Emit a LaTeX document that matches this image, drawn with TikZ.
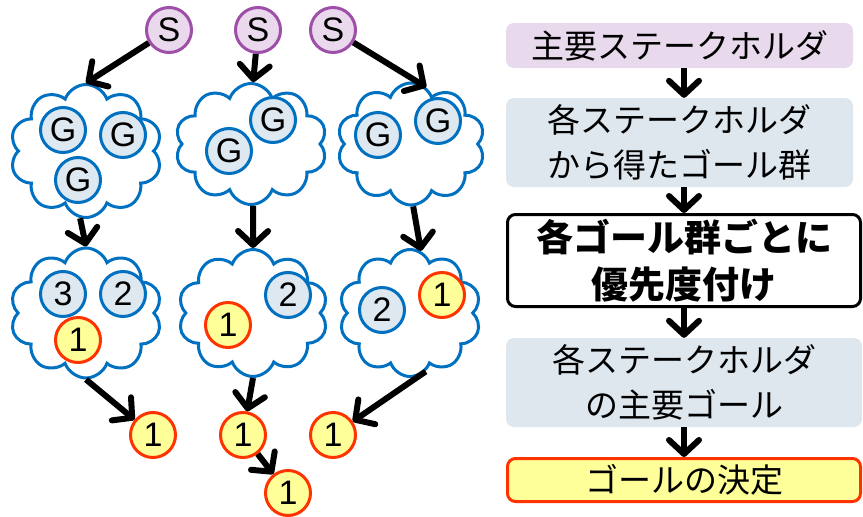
\documentclass[tikz,border=0pt]{standalone}
\usepackage{fontspec}
\setmainfont{Liberation Sans}
\newfontfamily\jp{Noto Sans CJK JP}
\usetikzlibrary{shapes.symbols,arrows.meta}
\definecolor{cloudblue}{HTML}{0070C0}
\definecolor{gfill}{HTML}{DEE8F0}
\definecolor{yfill}{HTML}{FFFF99}
\definecolor{ydraw}{HTML}{FF3300}
\definecolor{sfill}{HTML}{EAD8EC}
\definecolor{sdraw}{HTML}{9E4FA8}
\definecolor{pinkbox}{HTML}{E8DAEC}
\definecolor{bluebox}{HTML}{DEE6EE}
\tikzset{
  circ/.style={circle, minimum size=45pt, inner sep=0pt, line width=3pt, font=\fontsize{34}{34}\selectfont},
  snode/.style={circ, draw=sdraw, fill=sfill},
  gnode/.style={circ, draw=cloudblue, fill=gfill},
  ynode/.style={circ, draw=ydraw, fill=yfill},
  cloudy/.style={cloud, cloud puffs=10, cloud puff arc=140, draw=cloudblue, fill=white, line width=3pt, inner sep=0pt},
  arr/.style={line width=6pt, -{Straight Barb[length=14pt,width=30pt,line width=6pt,round]}},
  boxbase/.style={rounded corners=8pt, inner sep=0pt, align=center, font=\jp\fontsize{33}{45}\selectfont},
}
\begin{document}
\begin{tikzpicture}[x=1pt,y=-1pt]
\useasboundingbox (0,0) rectangle (863,517);
% clouds
\node[cloudy, minimum width=152pt, minimum height=133pt] (c1) at (86,151) {};
\node[cloudy, minimum width=152pt, minimum height=121pt] (c2) at (251,144) {};
\node[cloudy, minimum width=148pt, minimum height=122pt] (c3) at (411,144) {};
\node[cloudy, minimum width=152pt, minimum height=130pt] (c4) at (86,313) {};
\node[cloudy, minimum width=150pt, minimum height=127pt] (c5) at (253,313) {};
\node[cloudy, minimum width=142pt, minimum height=127pt] (c6) at (410,313) {};
% S nodes
\node[snode] (s1) at (169,30) {S};
\node[snode] (s2) at (258,30) {S};
\node[snode] (s3) at (333,30) {S};
% G nodes
\node[gnode] (g11) at (63,130) {G};
\node[gnode] (g12) at (123,135) {G};
\node[gnode] (g13) at (78,180) {G};
\node[gnode] (g21) at (229,151) {G};
\node[gnode] (g22) at (273,120) {G};
\node[gnode] (g31) at (378,135) {G};
\node[gnode] (g32) at (438,121) {G};
% ranked
\node[gnode] (r43) at (63,294) {3};
\node[gnode] (r42) at (123,294) {2};
\node[ynode] (r41) at (78,340) {1};
\node[ynode] (r51) at (228,325) {1};
\node[gnode] (r52) at (288,295) {2};
\node[gnode] (r62) at (382,310) {2};
\node[ynode] (r61) at (442,295) {1};
% results
\node[ynode] (l1) at (153,435) {1};
\node[ynode] (m1) at (243,435) {1};
\node[ynode] (b1) at (288,493) {1};
\node[ynode] (rr1) at (333,435) {1};
% arrows left
\draw[arr] (s1) -- (c1.north);
\draw[arr] (s2) -- (c2.88);
\draw[arr] (s3) -- (c3.75);
\draw[arr] (c1.265) -- (c4.north);
\draw[arr] (c2.272) -- (c5.north);
\draw[arr] (c3.272) -- (c6.80);
\draw[arr] (c4.270) -- (l1);
\draw[arr] (c5.270) -- (m1);
\draw[arr] (m1) -- (b1);
\draw[arr] (c6.285) -- (rr1);
% right flow
\coordinate (ax) at (684,0);
\node[boxbase, fill=pinkbox, minimum width=347pt, minimum height=45pt] (k1) at (679.5,45.5) {主要ステークホルダ};
\node[boxbase, fill=bluebox, minimum width=347pt, minimum height=89pt] (k2) at (679.5,142.5) {各ステークホルダ\\から得たゴール群};
\node[boxbase, draw=black, line width=3pt, fill=white, minimum width=353pt, minimum height=92pt, font=\jp\bfseries\fontsize{37}{47}\selectfont] (k3) at (684,260.5) {各ゴール群ごとに\\優先度付け};
\node[boxbase, fill=bluebox, minimum width=356pt, minimum height=89pt] (k4) at (684,382.5) {各ステークホルダ\\の主要ゴール};
\node[boxbase, draw=ydraw, line width=3pt, fill=yfill, minimum width=353pt, minimum height=43pt] (k5) at (684,480) {ゴールの決定};
\draw[arr] (k1.south -| ax) -- (k2.north -| ax);
\draw[arr] (k2.south -| ax) -- (k3.north -| ax);
\draw[arr] (k3.south -| ax) -- (k4.north -| ax);
\draw[arr] (k4.south -| ax) -- (k5.north -| ax);
\end{tikzpicture}
\end{document}
